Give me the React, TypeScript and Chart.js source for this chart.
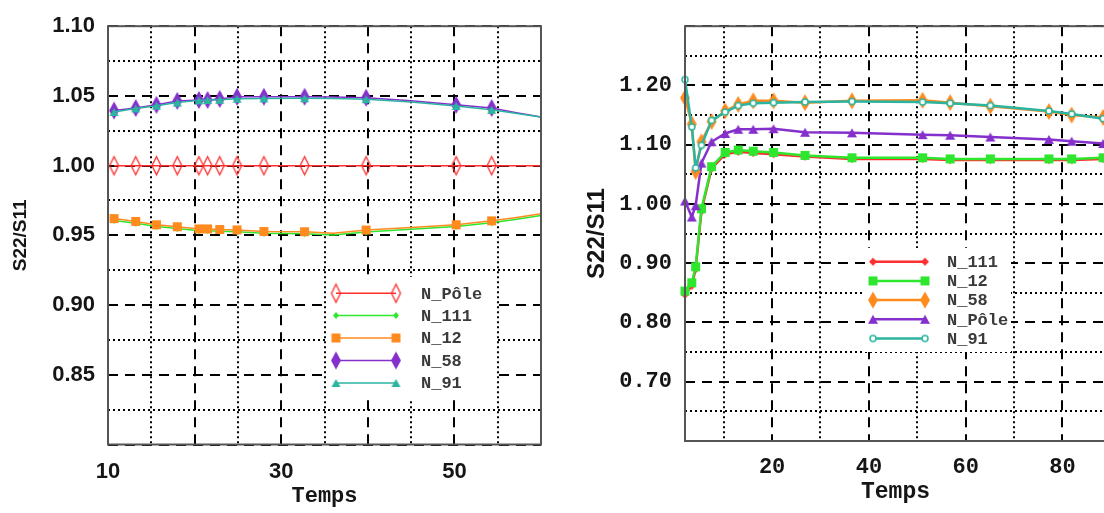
import React, { useEffect, useRef } from 'react';
import { Chart, registerables } from 'chart.js';

Chart.register(...registerables);

// ---------------- Left panel data ----------------
const leftTime = [10.7, 13.2, 15.6, 18.0, 20.5, 21.5, 22.9, 24.9, 28.0, 32.7, 36.0, 39.8, 45.0, 50.2, 54.3, 57.0, 60.0];
const leftHasMarker = [1, 1, 1, 1, 1, 1, 1, 1, 1, 1, 0, 1, 0, 1, 1, 0, 0];
const leftPole = [1.0, 1.0, 1.0, 1.0, 1.0, 1.0, 1.0, 1.0, 1.0, 1.0, 1.0, 1.0, 1.0, 1.0, 1.0, 1.0, 1.0];
const left111 = [0.9607, 0.9586, 0.9563, 0.9549, 0.9533, 0.9533, 0.9529, 0.9526, 0.9515, 0.9512, 0.9502, 0.9524, 0.9543, 0.9563, 0.9591, 0.9614, 0.9643];
const left12 = [0.962, 0.96, 0.9576, 0.9562, 0.9546, 0.9546, 0.9542, 0.9539, 0.9528, 0.9526, 0.9515, 0.9538, 0.9556, 0.9576, 0.9604, 0.9627, 0.9655];
const left58 = [1.0395, 1.0413, 1.0436, 1.0464, 1.0471, 1.0471, 1.0478, 1.0494, 1.0494, 1.0494, 1.0493, 1.0487, 1.0466, 1.0436, 1.0413, 1.0381, 1.0348];
const left91 = [1.0385, 1.041, 1.043, 1.0452, 1.0468, 1.047, 1.0472, 1.048, 1.0482, 1.0483, 1.0481, 1.0476, 1.0456, 1.0428, 1.04, 1.0376, 1.0348];

const leftXTicks = [10, 15, 20, 25, 30, 35, 40, 45, 50, 55, 60];
const leftXTickLabels = ['10', '', '', '', '30', '', '', '', '50', '', ''];
const leftYTicks = [0.8, 0.825, 0.85, 0.875, 0.9, 0.925, 0.95, 0.975, 1.0, 1.025, 1.05, 1.075, 1.1];
const leftYTickLabels = ['', '', '0.85', '', '0.90', '', '0.95', '', '1.00', '', '1.05', '', '1.10'];
const leftLegendOrder = ['N_Pôle', 'N_111', 'N_12', 'N_58', 'N_91'];

// ---------------- Right panel data ----------------
const rightTime = [2.0, 3.4, 4.2, 5.4, 7.5, 10.3, 13.0, 16.1, 20.3, 26.8, 36.5, 51.1, 56.8, 65.1, 77.2, 81.9, 88.4];
const right111 = [0.847, 0.862, 0.89, 0.988, 1.06, 1.084, 1.088, 1.086, 1.084, 1.08, 1.076, 1.076, 1.074, 1.074, 1.074, 1.074, 1.076];
const right12 = [0.853, 0.867, 0.894, 0.992, 1.063, 1.087, 1.091, 1.089, 1.087, 1.082, 1.078, 1.078, 1.076, 1.076, 1.076, 1.076, 1.078];
const right58 = [1.179, 1.135, 1.055, 1.105, 1.139, 1.157, 1.168, 1.174, 1.174, 1.171, 1.174, 1.175, 1.171, 1.165, 1.156, 1.15, 1.146];
const rightPole = [1.005, 0.978, 0.997, 1.069, 1.105, 1.119, 1.126, 1.126, 1.127, 1.121, 1.12, 1.117, 1.116, 1.113, 1.109, 1.106, 1.102];
const right91 = [1.21, 1.13, 1.061, 1.099, 1.141, 1.155, 1.166, 1.17, 1.171, 1.172, 1.173, 1.172, 1.17, 1.166, 1.157, 1.152, 1.144];

const rightXTicks = [10, 20, 30, 40, 50, 60, 70, 80];
const rightXTickLabels = ['', '20', '', '40', '', '60', '', '80'];
const rightYTicks = [0.6, 0.65, 0.7, 0.75, 0.8, 0.85, 0.9, 0.95, 1.0, 1.05, 1.1, 1.15, 1.2, 1.25, 1.3];
const rightYTickLabels = ['', '', '0.70', '', '0.80', '', '0.90', '', '1.00', '', '1.10', '', '1.20', '', ''];
const rightLegendOrder = ['N_111', 'N_12', 'N_58', 'N_Pôle', 'N_91'];

// ---------------- colours ----------------
const RED = '#ff2e2e';
const GREEN = '#2fe62f';
const ORANGE = '#ff8a1e';
const PURPLE = '#8530cc';
const TEAL = '#2bb5a0';

type Kind = 'diamond' | 'square' | 'triangle' | 'circle';
function makeMarker(kind: Kind, w: number, h: number, fill: string | null, stroke: string | null, lw = 1.5) {
  const c = document.createElement('canvas');
  const pad = 2;
  c.width = Math.round(w + 2 * pad);
  c.height = Math.round(h + 2 * pad);
  const g = c.getContext('2d')!;
  g.translate(c.width / 2, c.height / 2);
  g.beginPath();
  if (kind === 'diamond') {
    g.moveTo(0, -h / 2); g.lineTo(w / 2, 0); g.lineTo(0, h / 2); g.lineTo(-w / 2, 0); g.closePath();
  } else if (kind === 'square') {
    g.rect(-w / 2, -h / 2, w, h);
  } else if (kind === 'triangle') {
    g.moveTo(0, -h / 2); g.lineTo(w / 2, h / 2); g.lineTo(-w / 2, h / 2); g.closePath();
  } else {
    g.arc(0, 0, w / 2, 0, Math.PI * 2);
  }
  if (fill) { g.fillStyle = fill; g.fill(); }
  if (stroke) { g.strokeStyle = stroke; g.lineWidth = lw; g.stroke(); }
  return c;
}

function series(label: string, xs: number[], ys: number[], color: string, width: number, marker: any, order: number, has?: number[]) {
  return {
    label,
    data: xs.map((x, i) => ({ x, y: ys[i] })),
    borderColor: color,
    backgroundColor: color,
    borderWidth: width,
    pointStyle: marker,
    pointRadius: has ? has.map((m) => (m ? 5 : 0)) : 5,
    pointHoverRadius: 5,
    tension: 0,
    fill: false,
    clip: false,
    order,
  };
}

const boxLegend = {
  id: 'boxLegend',
  afterDatasetsDraw(chart: any, _a: any, opts: any) {
    if (!opts || !opts.box) return;
    const ctx = chart.ctx;
    const { box, rows, x1, x2, textX, font, color, order } = opts;
    ctx.save();
    ctx.fillStyle = '#ffffff';
    ctx.fillRect(box.x, box.y, box.w, box.h);
    order.forEach((lab: string, i: number) => {
      const ds = chart.data.datasets.find((d: any) => d.label === lab);
      if (!ds) return;
      const y = rows[i];
      ctx.strokeStyle = ds.borderColor;
      ctx.lineWidth = ds.borderWidth;
      ctx.setLineDash([]);
      ctx.beginPath();
      ctx.moveTo(x1, y);
      ctx.lineTo(x2, y);
      ctx.stroke();
      const img = ds.pointStyle;
      if (img && img.width) {
        ctx.drawImage(img, x1 - img.width / 2, y - img.height / 2);
        ctx.drawImage(img, x2 - img.width / 2, y - img.height / 2);
      }
      ctx.fillStyle = color;
      ctx.font = font;
      ctx.textAlign = 'left';
      ctx.textBaseline = 'middle';
      ctx.fillText(lab, textX, y + 1);
    });
    ctx.restore();
  },
};

const frame = {
  id: 'frame',
  afterDraw(chart: any) {
    const { left, top, right, bottom } = chart.chartArea;
    const ctx = chart.ctx;
    ctx.save();
    ctx.strokeStyle = '#555555';
    ctx.lineWidth = 2;
    ctx.setLineDash([]);
    ctx.strokeRect(left, top, right - left, bottom - top);
    ctx.restore();
  },
};

function gridDash(step: number) {
  return (ctx: any) => {
    if (!ctx.tick) return [];
    const r = ctx.tick.value / step;
    return Math.abs(r - Math.round(r)) < 1e-6 ? [10, 7] : [2, 3];
  };
}

function buildAxis(o: any) {
  return {
    type: 'linear',
    min: o.min,
    max: o.max,
    afterBuildTicks: (s: any) => { s.ticks = o.ticks.map((v: number) => ({ value: v })); },
    afterFit: (s: any) => { if (o.width != null) s.width = o.width; if (o.height != null) s.height = o.height; },
    grid: { color: '#000000', lineWidth: 2, drawTicks: false },
    border: { display: false, dash: gridDash(o.major) },
    ticks: {
      autoSkip: false,
      maxRotation: 0,
      minRotation: 0,
      padding: o.pad,
      color: '#151515',
      font: o.tickFont,
      callback: (_v: any, i: number) => o.labels[i],
    },
    title: { display: true, text: o.title, color: '#151515', font: o.titleFont, padding: o.titlePad },
  };
}

function useChart(ref: React.RefObject<HTMLCanvasElement>, make: () => any) {
  useEffect(() => {
    if (!ref.current) return;
    const chart = new Chart(ref.current, make());
    return () => chart.destroy();
  }, []);
}

export default function App() {
  const leftRef = useRef<HTMLCanvasElement>(null);
  const rightRef = useRef<HTMLCanvasElement>(null);

  useChart(leftRef, () => {
    const mPole = makeMarker('diamond', 9, 18, null, RED, 1.3);
    const m111 = makeMarker('diamond', 6, 7, GREEN, null);
    const m12 = makeMarker('square', 9, 9, ORANGE, null);
    const m58 = makeMarker('diamond', 10, 18, PURPLE, null);
    const m91 = makeMarker('triangle', 9, 8, TEAL, null);
    return {
      type: 'line',
      data: {
        datasets: [
          series('N_Pôle', leftTime, leftPole, RED, 1.5, mPole, 0, leftHasMarker),
          series('N_111', leftTime, left111, GREEN, 1.5, m111, 4, leftHasMarker),
          series('N_12', leftTime, left12, ORANGE, 1.5, m12, 3, leftHasMarker),
          series('N_58', leftTime, left58, PURPLE, 1.5, m58, 2, leftHasMarker),
          series('N_91', leftTime, left91, TEAL, 1.5, m91, 1, leftHasMarker),
        ],
      },
      options: {
        animation: false,
        responsive: false,
        events: [],
        layout: { padding: { top: 12, right: 19, left: 0, bottom: 0 } },
        plugins: {
          legend: { display: false },
          tooltip: { enabled: false },
          boxLegend: {
            box: { x: 327, y: 277, w: 170, h: 123 },
            rows: [293.3, 315.5, 338, 360.5, 383],
            x1: 336, x2: 396, textX: 421,
            font: 'bold 17px "Liberation Mono"',
            color: '#3a3a3a',
            order: leftLegendOrder,
          },
        },
        scales: {
          x: buildAxis({
            min: 10, max: 60, ticks: leftXTicks, labels: leftXTickLabels, major: 10, height: 68.5, pad: 14,
            tickFont: { family: '"Liberation Sans"', size: 22, weight: 'bold' },
            title: 'Temps', titleFont: { family: '"Liberation Mono"', size: 22, weight: 'bold' },
            titlePad: { top: 0, bottom: 3 },
          }),
          y: buildAxis({
            min: 0.8, max: 1.1, ticks: leftYTicks, labels: leftYTickLabels, major: 0.05, width: 108, pad: 13,
            tickFont: { family: '"Liberation Sans"', size: 22, weight: 'bold' },
            title: 'S22/S11', titleFont: { family: '"Liberation Sans"', size: 19, weight: 'bold' },
            titlePad: { top: 9, bottom: 0 },
          }),
        },
      },
      plugins: [boxLegend, frame],
    };
  });

  useChart(rightRef, () => {
    const m111 = makeMarker('diamond', 8, 8, RED, null);
    const m12 = makeMarker('square', 9, 9, GREEN, null);
    const m58 = makeMarker('diamond', 10, 17, ORANGE, null);
    const mPole = makeMarker('triangle', 10, 9, PURPLE, null);
    const m91 = makeMarker('circle', 6, 6, '#ffffff', TEAL, 1.5);
    return {
      type: 'line',
      data: {
        datasets: [
          series('N_111', rightTime, right111, RED, 2.5, m111, 4),
          series('N_12', rightTime, right12, GREEN, 2.5, m12, 3),
          series('N_58', rightTime, right58, ORANGE, 2.5, m58, 1),
          series('N_Pôle', rightTime, rightPole, PURPLE, 2.5, mPole, 2),
          series('N_91', rightTime, right91, TEAL, 2.5, m91, 0),
        ],
      },
      options: {
        animation: false,
        responsive: false,
        events: [],
        layout: { padding: { top: 19, right: 14, left: 0, bottom: 0 } },
        plugins: {
          legend: { display: false },
          tooltip: { enabled: false },
          boxLegend: {
            box: { x: 305, y: 248, w: 146, h: 104 },
            rows: [261.7, 280.9, 300.1, 319.3, 338.5],
            x1: 313, x2: 365, textX: 387,
            font: 'bold 17px "Liberation Mono"',
            color: '#3a3a3a',
            order: rightLegendOrder,
          },
        },
        scales: {
          x: buildAxis({
            min: 2, max: 89, ticks: rightXTicks, labels: rightXTickLabels, major: 20, height: 72, pad: 13,
            tickFont: { family: '"Liberation Mono"', size: 22, weight: 'bold' },
            title: 'Temps', titleFont: { family: '"Liberation Mono"', size: 23, weight: 'bold' },
            titlePad: { top: 0, bottom: 7 },
          }),
          y: buildAxis({
            min: 0.6, max: 1.3, ticks: rightYTicks, labels: rightYTickLabels, major: 0.1, width: 125, pad: 13,
            tickFont: { family: '"Liberation Mono"', size: 22, weight: 'bold' },
            title: 'S22/S11', titleFont: { family: '"Liberation Sans"', size: 24, weight: 'bold' },
            titlePad: { top: 22.6, bottom: 0 },
          }),
        },
      },
      plugins: [boxLegend, frame],
    };
  });

  return (
    <div style={{ position: 'fixed', left: 0, top: 0, width: 1104, height: 513, overflow: 'hidden', background: '#ffffff' }}>
      <div style={{ position: 'absolute', left: 0, top: 0, width: 560, height: 513 }}>
        <canvas ref={leftRef} width={560} height={513} style={{ display: 'block' }} />
      </div>
      <div style={{ position: 'absolute', left: 560, top: 0, width: 560, height: 513 }}>
        <canvas ref={rightRef} width={560} height={513} style={{ display: 'block' }} />
      </div>
    </div>
  );
}
